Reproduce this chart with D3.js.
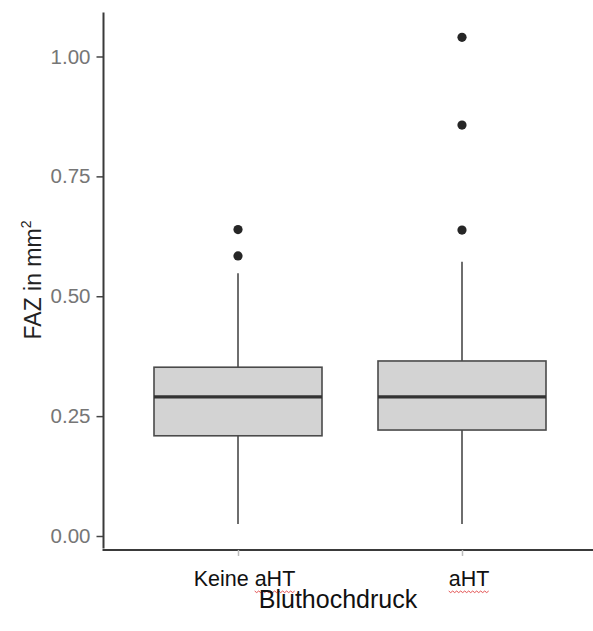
<!DOCTYPE html>
<html>
<head>
<meta charset="utf-8">
<script src="https://cdn.jsdelivr.net/npm/d3@7"></script>
<style>
  html, body { margin: 0; padding: 0; background: #fff; }
  svg { display: block; }
  text { font-family: "Liberation Sans", Arial, sans-serif; }
</style>
</head>
<body>
<svg id="chart" width="593" height="631"></svg>
<script>
// ---- data ----
const categories = ["Keine aHT", "aHT"];
const lowerWhisker = [0.025, 0.025];
const q1 = [0.209, 0.221];
const median = [0.290, 0.290];
const q3 = [0.352, 0.365];
const upperWhisker = [0.548, 0.572];
const outliers = [[0.584, 0.639], [0.638, 0.857, 1.040]];
const yTicks = [0.00, 0.25, 0.50, 0.75, 1.00];
const yDomain = [-0.026, 1.092];
const xTitle = "Bluthochdruck";
const yTitleMain = "FAZ in mm";
const yTitleSup = "2";

// ---- layout ----
const svg = d3.select("#chart");
const y = d3.scaleLinear().domain([0, 1]).range([536, 56.5]);
const x = d3.scalePoint().domain(categories).range([238, 462]);
const step = x(categories[1]) - x(categories[0]);
const boxW = 0.75 * step;
const panelLeft = 103.5;

const g = svg.append("g");

// boxes
categories.forEach((c, i) => {
  const cx = x(c);
  const bg = g.append("g");
  bg.append("line").attr("x1", cx).attr("x2", cx)
    .attr("y1", y(q3[i])).attr("y2", y(upperWhisker[i]))
    .attr("stroke", "#4a4a4a").attr("stroke-width", 1.6);
  bg.append("line").attr("x1", cx).attr("x2", cx)
    .attr("y1", y(q1[i])).attr("y2", y(lowerWhisker[i]))
    .attr("stroke", "#4a4a4a").attr("stroke-width", 1.6);
  bg.append("rect")
    .attr("x", cx - boxW / 2).attr("width", boxW)
    .attr("y", y(q3[i])).attr("height", y(q1[i]) - y(q3[i]))
    .attr("fill", "#d3d3d3").attr("stroke", "#4a4a4a").attr("stroke-width", 1.6);
  bg.append("line")
    .attr("x1", cx - boxW / 2).attr("x2", cx + boxW / 2)
    .attr("y1", y(median[i])).attr("y2", y(median[i]))
    .attr("stroke", "#333").attr("stroke-width", 3.2);
  bg.selectAll("circle.o").data(outliers[i]).enter().append("circle")
    .attr("cx", cx).attr("cy", d => y(d)).attr("r", 4.6)
    .attr("fill", "#262626");
});

// y axis
const yAxis = d3.axisLeft(y).tickValues(yTicks).tickFormat(d3.format(".2f"))
  .tickSize(7).tickPadding(6);
const ya = svg.append("g").attr("transform", `translate(${panelLeft},0)`).call(yAxis);
ya.select(".domain").remove();
ya.selectAll(".tick line").attr("stroke", "#444").attr("stroke-width", 1.5);
ya.selectAll(".tick text").attr("fill", "#767676").attr("font-size", 20.5)
  .attr("font-family", "Liberation Sans, Arial, sans-serif");
svg.append("line")
  .attr("x1", panelLeft).attr("x2", panelLeft)
  .attr("y1", y(yDomain[1])).attr("y2", y(yDomain[0]))
  .attr("stroke", "#3a3a3a").attr("stroke-width", 2);

// x axis
const axisY = y(yDomain[0]) + 1.5;
svg.append("line")
  .attr("x1", panelLeft - 1).attr("x2", 593)
  .attr("y1", axisY).attr("y2", axisY)
  .attr("stroke", "#3a3a3a").attr("stroke-width", 2);
const xAxis = d3.axisBottom(x).tickSize(6).tickFormat("");
const xa = svg.append("g").attr("transform", `translate(0,${axisY})`).call(xAxis);
xa.select(".domain").remove();
xa.selectAll(".tick line").attr("stroke", "#bbb").attr("stroke-width", 1.5);

// x tick labels (black, overlaid)
const labelOffset = [6.5, 7];
const labelBase = 586;
categories.forEach((c, i) => {
  const t = svg.append("text")
    .attr("x", x(c) + labelOffset[i]).attr("y", labelBase)
    .attr("text-anchor", "middle")
    .attr("font-size", 21.5).attr("fill", "#111")
    .text(c);
  const full = t.node().getComputedTextLength();
  const tmp = svg.append("text").attr("font-size", 21.5).text("aHT");
  const wA = tmp.node().getComputedTextLength();
  tmp.remove();
  const xEnd = x(c) + labelOffset[i] + full / 2;
  const xStart = xEnd - wA;
  const pts = [];
  for (let px = xStart, k = 0; px <= xEnd; px += 2, k++) {
    pts.push([px, labelBase + 5 + (k % 2 === 0 ? 0 : 1.6)]);
  }
  svg.append("path").attr("d", d3.line()(pts))
    .attr("fill", "none").attr("stroke", "#e04040").attr("stroke-width", 0.9);
});

// x title
svg.append("text")
  .attr("x", 338).attr("y", 608)
  .attr("text-anchor", "middle")
  .attr("font-size", 25).attr("fill", "#111")
  .text(xTitle);

// y title
const yt = svg.append("text")
  .attr("transform", "translate(41,280) rotate(-90)")
  .attr("text-anchor", "middle")
  .attr("font-size", 23).attr("fill", "#222");
yt.append("tspan").text(yTitleMain);
yt.append("tspan").attr("font-size", 14).attr("dy", -10).text(yTitleSup);
</script>
</body>
</html>
